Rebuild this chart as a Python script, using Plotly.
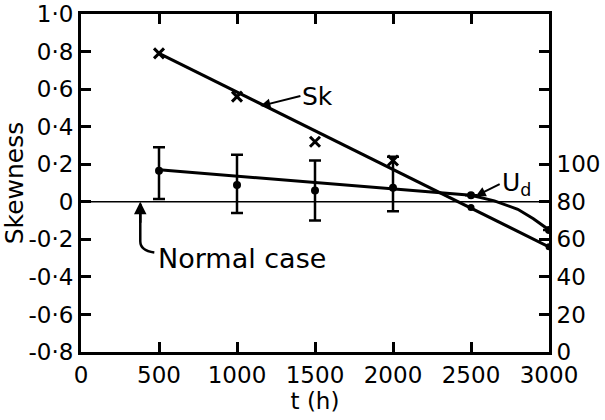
import plotly.graph_objects as go

# ---- data ----
t_sk_cross = [500, 1000, 1500, 2000]
sk_cross = [0.79, 0.56, 0.32, 0.22]
t_sk_dot = [2500, 3000]
sk_dot = [-0.03, -0.24]

t_sk_fit = [500, 3000]
sk_fit = [0.79, -0.24]

t_ud = [500, 1000, 1500, 2000, 2500, 3000]
ud_vals = [0.165, 0.09, 0.06, 0.075, 0.035, -0.15]
ud_err_plus = [0.125, 0.16, 0.16, 0.165, 0.0, 0.0]
ud_err_minus = [0.15, 0.15, 0.16, 0.125, 0.0, 0.0]

t_ud_fit = [500, 2500, 2650, 2800, 2900, 3000]
ud_fit = [0.17, 0.035, 0.005, -0.04, -0.09, -0.15]

x_ticks = [0, 500, 1000, 1500, 2000, 2500, 3000]
y_ticks = [-0.8, -0.6, -0.4, -0.2, 0, 0.2, 0.4, 0.6, 0.8, 1.0]
y_ticktext = ["-0·8", "-0·6", "-0·4", "-0·2", "0", "0·2", "0·4", "0·6", "0·8", "1·0"]
y2_ticks = [0, 20, 40, 60, 80, 100, 120, 140, 160]
y2_ticktext = ["0", "20", "40", "60", "80", "100", "", "", ""]

FONT = "DejaVu Sans"
BLACK = "black"

fig = go.Figure()

# zero (normal case) line
fig.add_trace(go.Scatter(x=[0, 3000], y=[0, 0], mode="lines",
                         line=dict(color=BLACK, width=1.5), hoverinfo="skip"))

# Sk fit line
fig.add_trace(go.Scatter(x=t_sk_fit, y=sk_fit, mode="lines",
                         line=dict(color=BLACK, width=3)))
# Sk points
fig.add_trace(go.Scatter(x=t_sk_cross, y=sk_cross, mode="markers",
                         marker=dict(symbol="x-thin", size=10, color=BLACK,
                                     line=dict(color=BLACK, width=3))))
fig.add_trace(go.Scatter(x=t_sk_dot, y=sk_dot, mode="markers",
                         marker=dict(symbol="circle", size=7, color=BLACK)))

# Ud fit line
fig.add_trace(go.Scatter(x=t_ud_fit, y=ud_fit, mode="lines",
                         line=dict(color=BLACK, width=3)))
# Ud points with error bars
fig.add_trace(go.Scatter(x=t_ud, y=ud_vals, mode="markers",
                         marker=dict(symbol="circle", size=8, color=BLACK),
                         error_y=dict(type="data", symmetric=False,
                                      array=ud_err_plus, arrayminus=ud_err_minus,
                                      color=BLACK, thickness=2.5, width=6)))

# secondary axis carrier (invisible)
fig.add_trace(go.Scatter(x=[0], y=[0], yaxis="y2", mode="markers",
                         marker=dict(opacity=0), hoverinfo="skip"))

fig.update_layout(
    width=605, height=420,
    margin=dict(l=81, r=56, t=14, b=68),
    paper_bgcolor="white", plot_bgcolor="white",
    showlegend=False,
    font=dict(family=FONT, size=23, color=BLACK),
    xaxis=dict(range=[0, 3000], tickvals=x_ticks, ticks="inside", ticklen=10,
               tickwidth=2.5, tickcolor=BLACK, showline=True, linewidth=3,
               linecolor=BLACK, mirror="ticks", showgrid=False, zeroline=False,
               automargin=False,
               title=dict(text="t (h)", standoff=2, font=dict(size=23)),
               tickfont=dict(size=23)),
    yaxis=dict(range=[-0.8, 1.0], tickvals=y_ticks, ticktext=y_ticktext,
               ticks="inside", ticklen=10, tickwidth=2.5, tickcolor=BLACK,
               showline=True, linewidth=3, linecolor=BLACK, showgrid=False,
               zeroline=False, ticklabelstandoff=0, automargin=False,
               title=dict(text="Skewness", standoff=4, font=dict(size=25)),
               tickfont=dict(size=23)),
    yaxis2=dict(range=[0, 180], tickvals=y2_ticks, ticktext=y2_ticktext,
                overlaying="y", side="right", ticks="inside", ticklen=10,
                tickwidth=2.5, tickcolor=BLACK, showline=True, linewidth=3,
                linecolor=BLACK, showgrid=False, zeroline=False, automargin=False,
                ticklabelstandoff=0, tickfont=dict(size=23)),
)

# annotations
fig.add_annotation(x=1150, y=0.51, ax=40, ay=-10, text="Sk", showarrow=True,
                   arrowhead=2, arrowsize=1, arrowwidth=2, arrowcolor=BLACK,
                   font=dict(size=25), xanchor="left")
fig.add_annotation(x=2530, y=0.03, ax=24, ay=-12, text="U<sub>d</sub>", showarrow=True,
                   arrowhead=2, arrowsize=1, arrowwidth=2, arrowcolor=BLACK,
                   font=dict(size=25), xanchor="left")
# Normal case
fig.add_shape(type="path", xref="x", yref="y",
              path="M 380,-0.01 L 380,-0.21 Q 380,-0.26 470,-0.27",
              line=dict(color=BLACK, width=2.5))
fig.add_annotation(x=380, y=0.0, ax=380, ay=-0.12, axref="x", ayref="y",
                   text="", showarrow=True, arrowhead=2, arrowsize=1,
                   arrowwidth=2.5, arrowcolor=BLACK)
fig.add_annotation(x=480, y=-0.30, text="Normal case", showarrow=False,
                   xanchor="left", font=dict(size=27))

fig.write_html("out.html")
